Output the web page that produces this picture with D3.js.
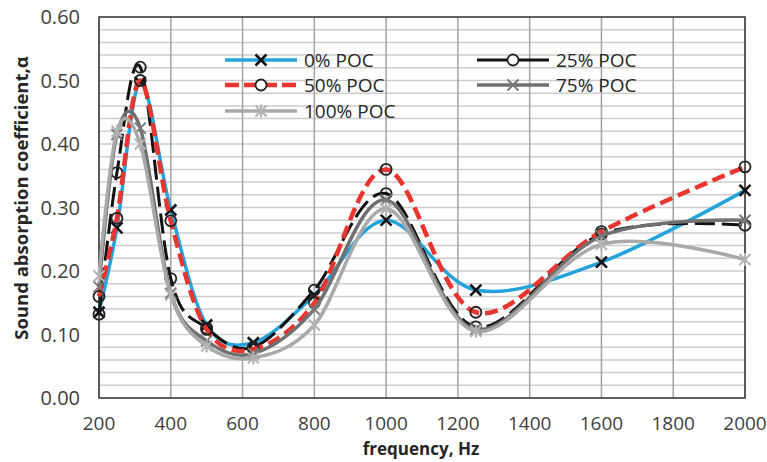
<!DOCTYPE html>
<html>
<head>
<meta charset="utf-8">
<script src="https://cdn.jsdelivr.net/npm/d3@7"></script>
<style>
  body { margin: 0; background: #fff; }
  text { font-family: "Open Sans", sans-serif; }
</style>
</head>
<body>
<svg class="chart"></svg>
<script>
var width = 767,
    height = 462;

// data
var freqs = [200, 250, 315, 400, 500, 630, 800, 1000, 1250, 1600, 2000];
var poc0   = [0.135, 0.268, 0.497, 0.296, 0.115, 0.087, 0.162, 0.280, 0.170, 0.214, 0.327];
var poc25  = [0.132, 0.355, 0.521, 0.188, 0.110, 0.080, 0.170, 0.322, 0.112, 0.258, 0.272];
var poc50  = [0.160, 0.283, 0.500, 0.279, 0.108, 0.077, 0.150, 0.360, 0.135, 0.262, 0.364];
var poc75  = [0.175, 0.415, 0.425, 0.165, 0.090, 0.070, 0.140, 0.312, 0.108, 0.255, 0.280];
var poc100 = [0.192, 0.420, 0.400, 0.162, 0.082, 0.063, 0.115, 0.298, 0.105, 0.242, 0.218];
var seriesNames = ["0% POC", "25% POC", "50% POC", "75% POC", "100% POC"];
var xTicks = [200, 400, 600, 800, 1000, 1200, 1400, 1600, 1800, 2000];
var yTicks = [0, 0.1, 0.2, 0.3, 0.4, 0.5, 0.6];

var series = [
  { name: seriesNames[0], values: poc0,   color: "#25a4dc", w: 3.5, dash: null,   marker: "x",      mcolor: "#111" },
  { name: seriesNames[1], values: poc25,  color: "#111111", w: 3,   dash: "20,7", marker: "circle", mcolor: "#222" },
  { name: seriesNames[2], values: poc50,  color: "#e8352f", w: 4.5, dash: "13,6", marker: "circle", mcolor: "#222" },
  { name: seriesNames[3], values: poc75,  color: "#707070", w: 3.5, dash: null,   marker: "x",      mcolor: "#7a7a7a" },
  { name: seriesNames[4], values: poc100, color: "#a9a9a9", w: 3.5, dash: null,   marker: "star",   mcolor: "#b3b3b3" }
];

var plotLeft = 99, plotRight = 745, plotTop = 17, plotBottom = 398;

var xscale = d3.scaleLinear().domain([200, 2000]).range([plotLeft, plotRight]);
var yscale = d3.scaleLinear().domain([0, 0.6]).range([plotBottom, plotTop]);

var chart = d3.select(".chart")
    .attr("width", width)
    .attr("height", height);

// minor horizontal grid every 0.02
var minor = d3.range(0, 0.6001, 0.02);
chart.append("g").selectAll("line")
    .data(minor)
  .enter().append("line")
    .attr("x1", plotLeft).attr("x2", plotRight)
    .attr("y1", function(d) { return yscale(d); })
    .attr("y2", function(d) { return yscale(d); })
    .attr("stroke", "#cdcdcd")
    .attr("stroke-width", 1.5);

// vertical grid
chart.append("g").selectAll("line")
    .data(xTicks)
  .enter().append("line")
    .attr("x1", function(d) { return xscale(d); })
    .attr("x2", function(d) { return xscale(d); })
    .attr("y1", plotTop).attr("y2", plotBottom)
    .attr("stroke", "#a3a3a3")
    .attr("stroke-width", 1.5);

// frame
chart.append("rect")
    .attr("x", plotLeft).attr("y", plotTop)
    .attr("width", plotRight - plotLeft).attr("height", plotBottom - plotTop)
    .attr("fill", "none")
    .attr("stroke", "#3a3a3a")
    .attr("stroke-width", 1.5);

// tick labels
chart.append("g").selectAll("text")
    .data(yTicks)
  .enter().append("text")
    .attr("x", 80)
    .attr("y", function(d) { return yscale(d); })
    .attr("dy", "0.35em")
    .attr("text-anchor", "end")
    .attr("font-size", 20)
    .attr("fill", "#404040")
    .text(function(d) { return d.toFixed(2); });

chart.append("g").selectAll("text")
    .data(xTicks)
  .enter().append("text")
    .attr("x", function(d) { return xscale(d); })
    .attr("y", 430)
    .attr("text-anchor", "middle")
    .attr("font-size", 19)
    .attr("fill", "#404040")
    .text(function(d) { return d; });

// axis titles
chart.append("text")
    .attr("x", 421).attr("y", 455)
    .attr("text-anchor", "middle")
    .attr("font-size", 17)
    .attr("font-weight", "bold")
    .attr("fill", "#262626")
    .text("frequency, Hz");

chart.append("text")
    .attr("transform", "translate(28,198) rotate(-90)")
    .attr("text-anchor", "middle")
    .attr("font-size", 18.5)
    .attr("font-weight", "bold")
    .attr("fill", "#262626")
    .text("Sound absorption coefficient,\u03b1");

function drawMarker(g, type, color, fill) {
  var s = 5.5;
  if (type === "circle") {
    g.append("circle").attr("r", 5.5)
      .attr("fill", fill || "none")
      .attr("stroke", color).attr("stroke-width", 1.8);
  } else {
    g.append("path")
      .attr("d", "M" + (-s) + "," + (-s) + "L" + s + "," + s + "M" + (-s) + "," + s + "L" + s + "," + (-s) +
        (type === "star" ? "M0," + (-s - 1) + "L0," + (s + 1) : ""))
      .attr("fill", "none")
      .attr("stroke", color)
      .attr("stroke-width", type === "x" && color === "#111" ? 2.6 : 2);
  }
}

var line = d3.line()
    .x(function(d, i) { return xscale(freqs[i]); })
    .y(function(d) { return yscale(d); })
    .curve(d3.curveCardinal.tension(0));

series.forEach(function(s) {
  var g = chart.append("g");
  g.append("path")
    .attr("d", line(s.values))
    .attr("fill", "none")
    .attr("stroke", s.color)
    .attr("stroke-width", s.w)
    .attr("stroke-dasharray", s.dash);
  s.values.forEach(function(v, i) {
    var m = g.append("g")
      .attr("transform", "translate(" + xscale(freqs[i]) + "," + yscale(v) + ")");
    drawMarker(m, s.marker, s.mcolor);
  });
});

// legend
var legendPos = [
  { x: 225, y: 60 }, { x: 477, y: 60 },
  { x: 225, y: 85 }, { x: 477, y: 85 },
  { x: 225, y: 111 }
];
series.forEach(function(s, i) {
  var p = legendPos[i];
  var lg = chart.append("g").attr("transform", "translate(" + p.x + "," + p.y + ")");
  lg.append("line")
    .attr("x1", 0).attr("x2", 72)
    .attr("y1", 0).attr("y2", 0)
    .attr("stroke", s.color)
    .attr("stroke-width", s.w)
    .attr("stroke-dasharray", s.dash ? (i === 2 ? "14,5" : null) : null);
  var m = lg.append("g").attr("transform", "translate(36,0)");
  drawMarker(m, s.marker, s.mcolor, "#fff");
  lg.append("text")
    .attr("x", 79)
    .attr("y", 0)
    .attr("dy", "0.35em")
    .attr("font-size", 19)
    .attr("fill", "#262626")
    .text(s.name);
});
</script>
</body>
</html>
